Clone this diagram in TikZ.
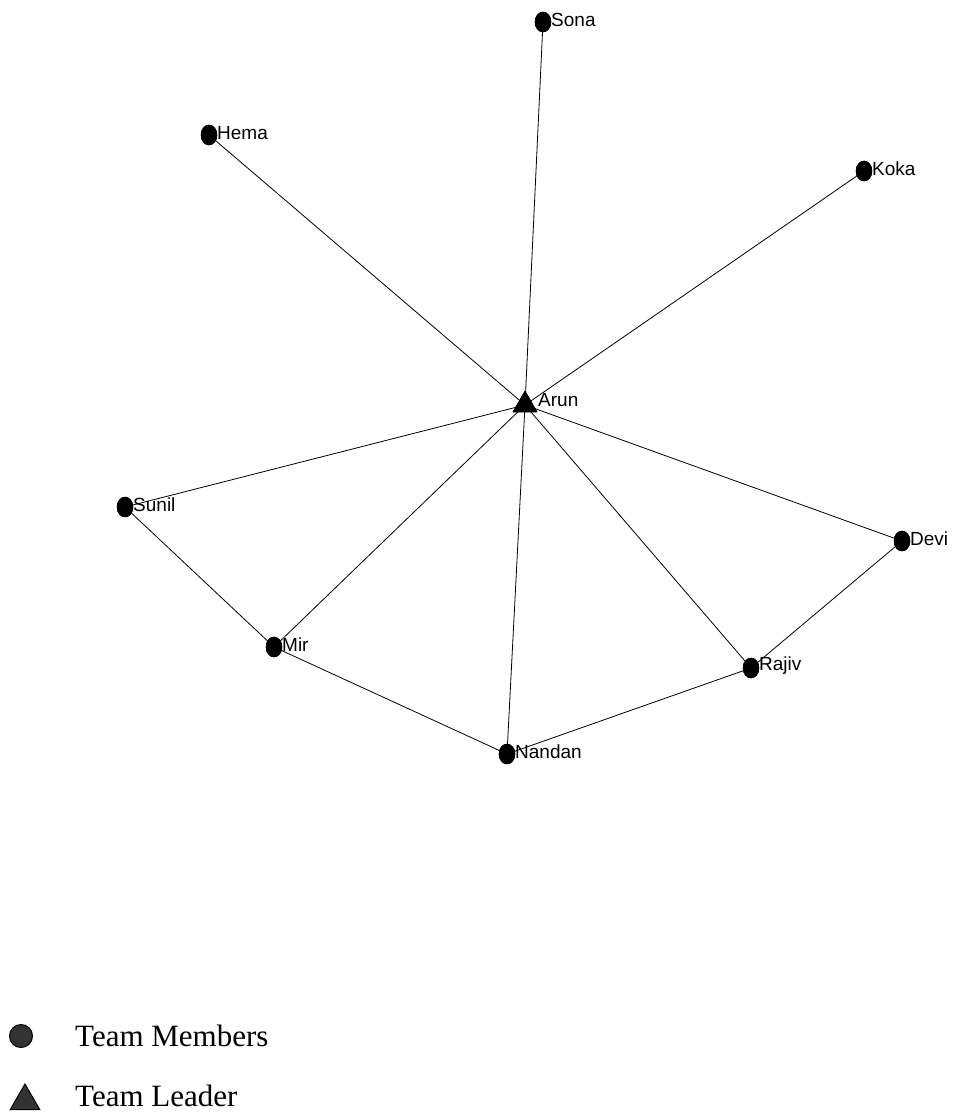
\documentclass[tikz,border=0pt]{standalone}
\usepackage{fontspec}
\setmainfont{Liberation Serif}
\newfontfamily\labelfont{Liberation Sans}
\usetikzlibrary{shapes.geometric}
\tikzset{
  member/.style={ellipse,fill=black,draw=black,inner sep=0pt,minimum width=16pt,minimum height=20pt},
  leader/.style={regular polygon,regular polygon sides=3,fill=black,draw=black,inner sep=0pt,minimum size=28pt},
  lbl/.style={anchor=west,inner sep=0pt,font=\labelfont\fontsize{19}{21}\selectfont},
  edge/.style={draw=black,line width=0.8pt},
  legtext/.style={anchor=west,inner sep=0pt,font=\fontsize{31}{35}\selectfont}
}
\begin{document}
\begin{tikzpicture}[x=1pt,y=-1pt]
\useasboundingbox (0,0) rectangle (958,1120);
% nodes
\node[member] (sona) at (543,22) {};
\node[member] (hema) at (209,135) {};
\node[member] (koka) at (864,171) {};
\node[leader] (arun) at (525,405) {};
\node[member] (sunil) at (125,507) {};
\node[member] (devi) at (902,541) {};
\node[member] (mir) at (274,647) {};
\node[member] (rajiv) at (751,668) {};
\node[member] (nandan) at (507,754) {};
% edges
\foreach \t in {sona,hema,koka,sunil,mir,nandan,rajiv,devi}
  \draw[edge] (arun.center) -- (\t.center);
\draw[edge] (sunil.center) -- (mir.center);
\draw[edge] (mir.center) -- (nandan.center);
\draw[edge] (nandan.center) -- (rajiv.center);
\draw[edge] (rajiv.center) -- (devi.center);
% redraw nodes on top
\foreach \n/\x/\y in {sona/543/22,hema/209/135,koka/864/171,sunil/125/507,devi/902/541,mir/274/647,rajiv/751/668,nandan/507/754}
  \node[member] at (\x,\y) {};
\node[leader] at (525,405) {};
% labels
\node[lbl] (lsona) at (551,20) {Sona};
\node[lbl] (lhema) at (217,133) {Hema};
\node[lbl] (lkoka) at (872,169) {Koka};
\node[lbl] (larun) at (538,400) {Arun};
\node[lbl] (lsunil) at (133,505) {Sunil};
\node[lbl] (ldevi) at (910,539) {Devi};
\node[lbl] (lmir) at (282,645) {Mir};
\node[lbl] (lrajiv) at (759,666) {Rajiv};
\node[lbl] (lnandan) at (515,752) {Nandan};
% legend
\node[circle,fill=black!80,draw=black,line width=1pt,minimum size=23pt,inner sep=0pt] (legc) at (21,1036) {};
\node[regular polygon,regular polygon sides=3,fill=black!80,draw=black,line width=1pt,minimum size=34pt,inner sep=0pt] (legt) at (25,1101) {};
\node[legtext] (legm) at (75,1036) {Team Members};
\node[legtext] (legl) at (75,1096) {Team Leader};
\end{tikzpicture}
\end{document}
